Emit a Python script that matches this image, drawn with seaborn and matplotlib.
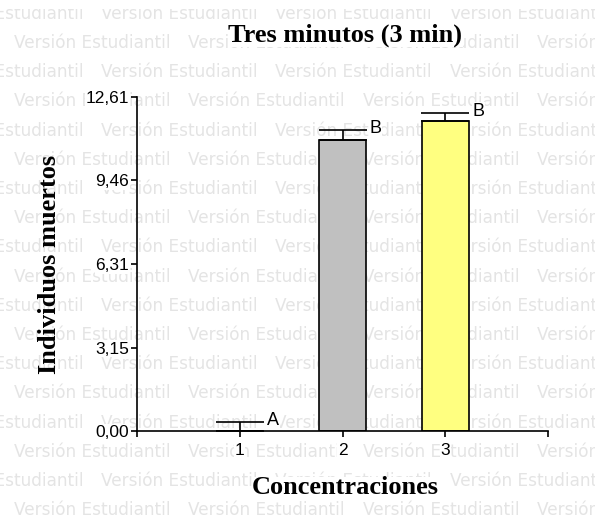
import numpy as np
import pandas as pd
import matplotlib
matplotlib.use("Agg")
import matplotlib.pyplot as plt
import seaborn as sns

# --- data -------------------------------------------------------------
concentraciones = [1, 2, 3]
muertos = [0.0, 11.0, 11.7]
error_std = [0.33, 0.35, 0.30]
letras = ["A", "B", "B"]
colores = ["#ffffff", "#c0c0c0", "#ffff80"]

ytick_vals = [0.00, 3.15, 6.31, 9.46, 12.61]
ytick_labels = ["0,00", "3,15", "6,31", "9,46", "12,61"]
xtick_vals = [0, 1, 2, 3, 4]
xtick_labels = ["", "1", "2", "3", ""]

titulo = "Tres minutos (3 min)"
eje_x = "Concentraciones"
eje_y = "Individuos muertos"
marca = "Versión Estudiantil"

df = pd.DataFrame({"conc": concentraciones, "muertos": muertos})

# --- style ------------------------------------------------------------
sns.set_style("ticks")
plt.rcParams["font.family"] = ["Liberation Sans", "DejaVu Sans"]

W, H = 595, 524
fig = plt.figure(figsize=(W / 100, H / 100), dpi=100)
fig.patch.set_facecolor("white")

# student-licence watermark tiled over the whole page
row_h = 29.2
period = 174.3
for k in range(19):
    base_y = 48 + row_h * (k - 1)
    x0 = 14 if k % 2 == 1 else 14 + period / 2 - period
    for n in range(-1, 5):
        fig.text((x0 + n * period) / W, 1 - base_y / H, marca,
                 fontsize=12.2, family="DejaVu Sans", color="#e4e4e4",
                 ha="left", va="baseline", zorder=-5)
fig.patches.append(plt.Rectangle((0, 1 - 8.5 / H), 1, 8.5 / H,
                                 transform=fig.transFigure, facecolor="white",
                                 edgecolor="none", zorder=-4))

left, right, bottom, top = 137, 548, 431, 97
ax = fig.add_axes([left / W, 1 - bottom / H, (right - left) / W, (bottom - top) / H])
ax.set_facecolor("none")

bar_width = 0.46
sns.barplot(data=df, x="conc", y="muertos", hue="conc",
            palette=dict(zip(concentraciones, colores)), saturation=1,
            native_scale=True, width=bar_width, errorbar=None, legend=False,
            edgecolor="black", linewidth=1.2, ax=ax, zorder=2)

# cap half-length in points so each cap spans the bar width
cap_half_pts = bar_width * (right - left) / 4 * 72 / 100 / 2
ax.errorbar(concentraciones, muertos,
            yerr=[np.zeros(len(muertos)), error_std],
            fmt="none", ecolor="black", elinewidth=1.2,
            capsize=cap_half_pts, capthick=1.2, zorder=3)

white_box = dict(facecolor="white", edgecolor="none", pad=0.5)
for xc, m, e, let in zip(concentraciones, muertos, error_std, letras):
    ax.annotate(let, xy=(xc + bar_width / 2, m + e), xytext=(2.5, -2),
                textcoords="offset points", ha="left", va="baseline",
                fontsize=13, family="Liberation Sans", color="black",
                bbox=white_box, zorder=4, annotation_clip=False)

ax.set_xlim(0, 4)
ax.set_ylim(0, 12.61)
ax.set_xticks(xtick_vals, xtick_labels)
ax.set_yticks(ytick_vals, ytick_labels)
ax.tick_params(axis="both", length=4.5, width=1.2, color="black",
               labelsize=12.5, labelcolor="black")
ax.tick_params(axis="y", pad=1)
ax.tick_params(axis="x", pad=4)
for lbl in ax.get_xticklabels() + ax.get_yticklabels():
    lbl.set_bbox(white_box)

sns.despine(ax=ax)
for s in ("left", "bottom"):
    ax.spines[s].set_linewidth(1.2)
    ax.spines[s].set_color("black")

serif_bold = dict(family="Liberation Serif", fontweight="bold",
                  fontsize=19, color="black")
ax.set_xlabel("")
ax.set_ylabel(eje_y, labelpad=18, **serif_bold)
ax.text((345.5 - left) / (right - left), 1 + (top - 35) / (bottom - top), titulo,
        transform=ax.transAxes, ha="center", va="center",
        bbox=dict(facecolor="white", edgecolor="none", pad=0), **serif_bold)
ax.text((345 - left) / (right - left), -(488 - bottom) / (bottom - top), eje_x,
        transform=ax.transAxes, ha="center", va="center",
        bbox=dict(facecolor="white", edgecolor="none", pad=0), **serif_bold)

fig.savefig("out.png", dpi=100, facecolor="white")
